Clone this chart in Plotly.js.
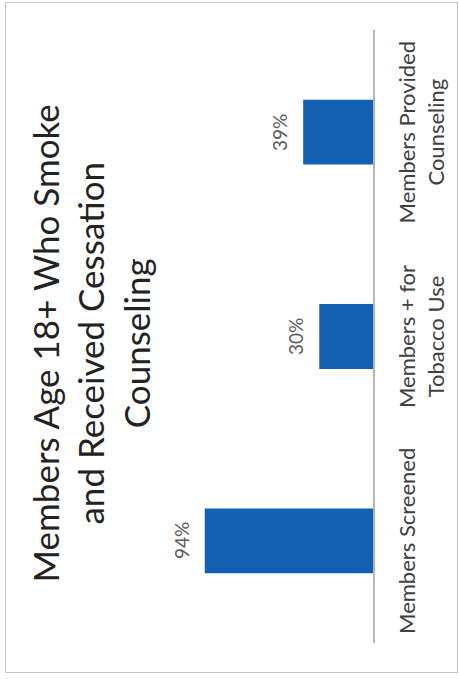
<!DOCTYPE html>
<html>
<head>
<meta charset="utf-8">
<script src="https://cdn.plot.ly/plotly-3.0.1.min.js"></script>
<style>
  html, body { margin: 0; padding: 0; background: #ffffff; overflow: hidden; }
  #wrap {
    position: absolute; left: 0; top: 0;
    width: 679px; height: 459px;
    transform-origin: 0 0;
    transform: translate(0px, 679px) rotate(-90deg);
  }
  #chart { position: absolute; left: 0; top: 0; width: 679px; height: 459px; }
  #frame {
    position: absolute; left: 6px; top: 5px; width: 669px; height: 451px;
    border: 1px solid #c4c4c4; pointer-events: none;
  }
</style>
</head>
<body>
<div id="wrap">
  <div id="chart"></div>
  <div id="frame"></div>
</div>
<script>
// Data
const categories = ["Members Screened", "Members + for<br>Tobacco Use", "Members Provided<br>Counseling"];
const values = [0.94, 0.30, 0.39];
const valueLabels = ["94%", "30%", "39%"];
const chartTitle = "Members Age 18+ Who Smoke<br>and Received Cessation<br>Counseling";

const FONT = "Lato, 'Open Sans', sans-serif";

const trace = {
  type: "bar",
  x: categories,
  y: values,
  marker: { color: "#1160b3" },
  hoverinfo: "skip"
};

const annotations = categories.map((c, i) => ({
  x: c, y: values[i], xref: "x", yref: "y",
  text: valueLabels[i], showarrow: false,
  yanchor: "bottom", yshift: 10,
  font: { family: FONT, size: 19, color: "#595959" }
}));

const layout = {
  width: 679, height: 459,
  margin: { l: 36, r: 30, t: 194, b: 86, pad: 0 },
  paper_bgcolor: "#ffffff", plot_bgcolor: "#ffffff",
  showlegend: false,
  bargap: 0.683,
  title: {
    text: chartTitle,
    font: { family: FONT, size: 35, color: "#222222" },
    x: 0.489, xanchor: "center", xref: "paper",
    y: 0.872, yanchor: "top", yref: "container"
  },
  xaxis: {
    type: "category",
    showline: true, linecolor: "#b5b5b5", linewidth: 1.5,
    ticks: "", showgrid: false, zeroline: false,
    tickfont: { family: FONT, size: 22, color: "#404040" },
    ticklabelstandoff: 14,
    fixedrange: true
  },
  yaxis: {
    range: [0, 1], visible: false, showgrid: false, zeroline: false, fixedrange: true
  },
  annotations: annotations
};

Plotly.newPlot("chart", [trace], layout, { staticPlot: true, displayModeBar: false });
</script>
</body>
</html>
